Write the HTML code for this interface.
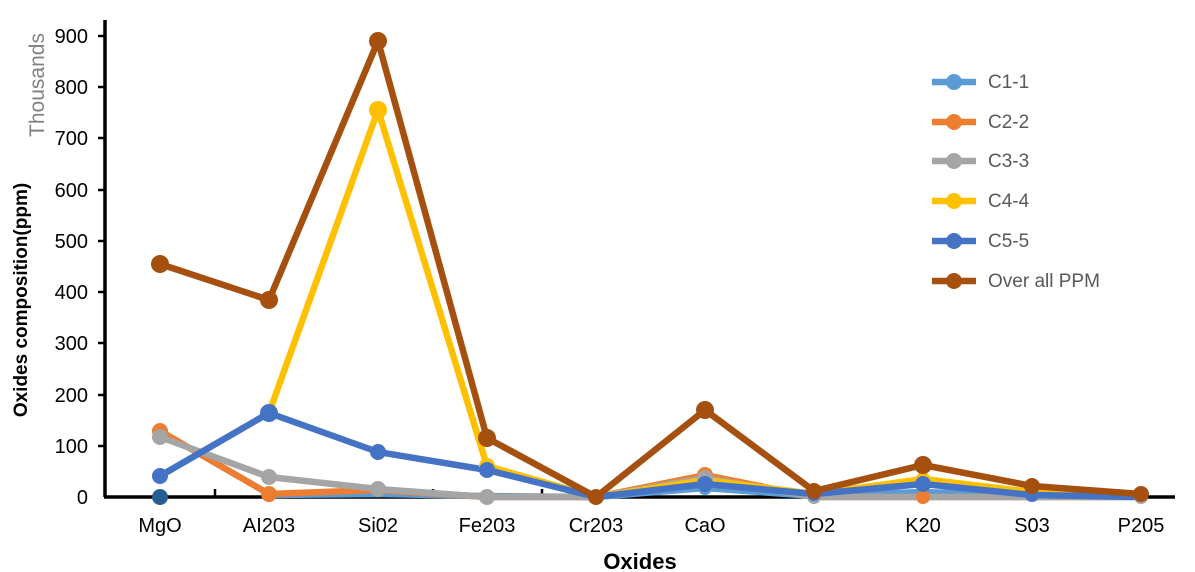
<!DOCTYPE html><html><head><style>body{margin:0;background:#fff}svg{display:block}</style></head><body>
<svg width="1195" height="572" xmlns="http://www.w3.org/2000/svg" font-family="Liberation Sans, sans-serif">
<rect width="1195" height="572" fill="#fff"/>
<g stroke="#000" stroke-width="3.5"><line x1="105" y1="20" x2="105" y2="497"/><line x1="104" y1="497" x2="1175" y2="497"/></g>
<g stroke="#000" stroke-width="2.5">
<line x1="98" y1="36" x2="105" y2="36"/><line x1="98" y1="87" x2="105" y2="87"/><line x1="98" y1="138" x2="105" y2="138"/><line x1="98" y1="190" x2="105" y2="190"/><line x1="98" y1="241" x2="105" y2="241"/><line x1="98" y1="292" x2="105" y2="292"/><line x1="98" y1="343" x2="105" y2="343"/><line x1="98" y1="395" x2="105" y2="395"/><line x1="98" y1="446" x2="105" y2="446"/>
<line x1="215" y1="489" x2="215" y2="497"/><line x1="324" y1="489" x2="324" y2="497"/><line x1="433" y1="489" x2="433" y2="497"/><line x1="542" y1="489" x2="542" y2="497"/><line x1="651" y1="489" x2="651" y2="497"/><line x1="760" y1="489" x2="760" y2="497"/><line x1="869" y1="489" x2="869" y2="497"/><line x1="978" y1="489" x2="978" y2="497"/><line x1="1087" y1="489" x2="1087" y2="497"/>
</g>
<g font-size="20" text-anchor="end" fill="#000">
<text x="88" y="43">900</text><text x="88" y="94">800</text><text x="88" y="145">700</text><text x="88" y="197">600</text><text x="88" y="248">500</text><text x="88" y="299">400</text><text x="88" y="350">300</text><text x="88" y="402">200</text><text x="88" y="453">100</text><text x="88" y="504">0</text>
</g>
<g font-size="20" text-anchor="middle" fill="#000">
<text x="160" y="532">MgO</text><text x="269" y="532">AI203</text><text x="378" y="532">Si02</text><text x="487" y="532">Fe203</text><text x="596" y="532">Cr203</text><text x="705" y="532">CaO</text><text x="814" y="532">TiO2</text><text x="923" y="532">K20</text><text x="1032" y="532">S03</text><text x="1141" y="532">P205</text>
</g>
<text x="640" y="569" font-size="22" font-weight="bold" text-anchor="middle">Oxides</text>
<text transform="translate(27,300) rotate(-90)" font-size="19" font-weight="bold" text-anchor="middle">Oxides composition(ppm)</text>
<text transform="translate(44,85) rotate(-90)" font-size="21" fill="#808080" text-anchor="middle">Thousands</text>
<g fill="none" stroke-width="6.5" stroke-linejoin="round">
<polyline stroke="#5B9BD5" points="269,495 378,494 487,496 596,497 705,488 814,496 923,492 1032,496 1141,497"/>
<polyline stroke="#ED7D31" points="160,431 269,494 378,490 487,497 596,497 705,475 814,497 923,497 1032,497 1141,497"/>
<polyline stroke="#A5A5A5" points="160,437 269,477 378,489 487,497 596,497 705,478 814,497 923,497 1032,497 1141,497"/>
<polyline stroke="#FFC000" points="269,413 378,110 487,466 596,497 705,480 814,494 923,479 1032,492 1141,496"/>
<polyline stroke="#4472C4" points="160,476 269,413 378,452 487,470 596,497 705,484 814,494 923,484 1032,495 1141,497"/>
<polyline stroke="#A5500F" points="160,264 269,300 378,41 487,438 596,497 705,410 814,491 923,465 1032,486 1141,494"/>
</g>
<g fill="#5B9BD5"><circle cx="269" cy="495" r="7"/><circle cx="705" cy="488" r="7"/></g>
<circle cx="160" cy="497" r="8" fill="#255E91"/>
<g fill="#ED7D31"><circle cx="160" cy="431" r="8"/><circle cx="269" cy="494" r="8"/><circle cx="705" cy="475" r="8"/><circle cx="923" cy="497" r="7"/></g>
<g fill="#A5A5A5"><circle cx="160" cy="437" r="8"/><circle cx="269" cy="477" r="8"/><circle cx="378" cy="489" r="8"/><circle cx="487" cy="497" r="8"/><circle cx="705" cy="478" r="8"/><circle cx="814" cy="497" r="7"/><circle cx="1141" cy="497" r="7"/></g>
<g fill="#FFC000"><circle cx="378" cy="110" r="9"/><circle cx="487" cy="466" r="8"/><circle cx="923" cy="479" r="7"/></g>
<g fill="#4472C4"><circle cx="160" cy="476" r="8"/><circle cx="269" cy="413" r="9"/><circle cx="378" cy="452" r="8"/><circle cx="487" cy="470" r="8"/><circle cx="596" cy="497" r="7"/><circle cx="705" cy="484" r="8"/><circle cx="814" cy="494" r="7"/><circle cx="923" cy="484" r="8"/><circle cx="1032" cy="495" r="7"/></g>
<g fill="#A5500F"><circle cx="160" cy="264" r="9"/><circle cx="269" cy="300" r="9"/><circle cx="378" cy="41" r="9"/><circle cx="487" cy="438" r="9"/><circle cx="596" cy="497" r="8"/><circle cx="705" cy="410" r="9"/><circle cx="814" cy="491" r="8"/><circle cx="923" cy="465" r="9"/><circle cx="1032" cy="486" r="8"/><circle cx="1141" cy="494" r="8"/></g>
<g stroke-width="6.5">
<line x1="932" y1="82" x2="976" y2="82" stroke="#5B9BD5"/><circle cx="954" cy="82" r="8" fill="#5B9BD5"/>
<line x1="932" y1="122" x2="976" y2="122" stroke="#ED7D31"/><circle cx="954" cy="122" r="8" fill="#ED7D31"/>
<line x1="932" y1="161" x2="976" y2="161" stroke="#A5A5A5"/><circle cx="954" cy="161" r="8" fill="#A5A5A5"/>
<line x1="932" y1="201" x2="976" y2="201" stroke="#FFC000"/><circle cx="954" cy="201" r="8" fill="#FFC000"/>
<line x1="932" y1="241" x2="976" y2="241" stroke="#4472C4"/><circle cx="954" cy="241" r="8" fill="#4472C4"/>
<line x1="932" y1="281" x2="976" y2="281" stroke="#A5500F"/><circle cx="954" cy="281" r="8" fill="#A5500F"/>
</g>
<g font-size="19" fill="#595959">
<text x="988" y="88">C1-1</text><text x="988" y="128">C2-2</text><text x="988" y="167">C3-3</text><text x="988" y="207">C4-4</text><text x="988" y="247">C5-5</text><text x="988" y="287">Over all PPM</text>
</g>
</svg></body></html>
